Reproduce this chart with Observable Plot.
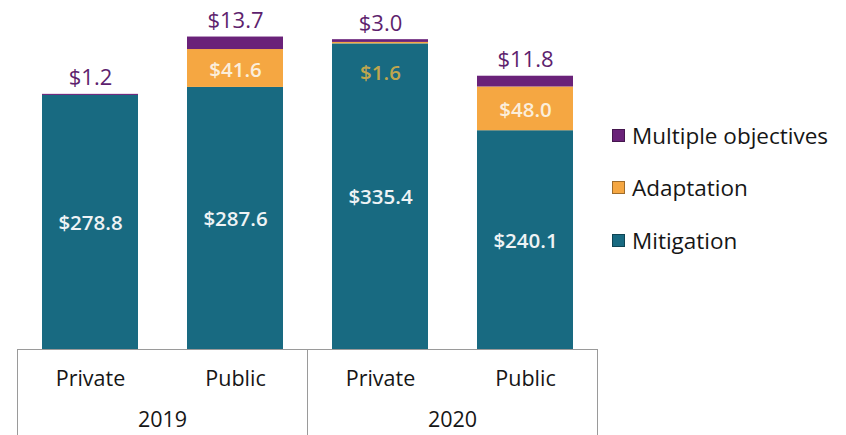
<!DOCTYPE html>
<html>
<head>
<meta charset="utf-8">
<script src="https://cdn.jsdelivr.net/npm/d3@7"></script>
<script src="https://cdn.jsdelivr.net/npm/@observablehq/plot@0.6"></script>
<style>
  html, body { margin: 0; padding: 0; background: #fff; }
  #wrap { position: relative; width: 846px; height: 435px; overflow: hidden; font-family: "Open Sans", sans-serif; }
  #legend { position: absolute; left: 612px; top: 120px; }
  .item { display: flex; align-items: center; height: 30px; margin-bottom: 22.5px; font-size: 22.5px; color: #161616; }
  .sw { width: 11px; height: 11px; border: 1px solid rgba(0,0,0,0.35); margin-right: 7px; }
</style>
</head>
<body>
<div id="wrap"><div id="legend"></div></div>
<script>
const years = ["2019", "2019", "2020", "2020"];
const sectors = ["Private", "Public", "Private", "Public"];
const mitigation = [278.8, 287.6, 335.4, 240.1];
const adaptation = [0, 41.6, 1.6, 48.0];
const multiple = [1.2, 13.7, 3.0, 11.8];

const objectives = ["Mitigation", "Adaptation", "Multiple objectives"];
const colors = ["#186a81", "#f5a742", "#6a2279"];

const fmt = v => "$" + v.toFixed(1);

const rows = [];
years.forEach((yr, i) => {
  rows.push({year: yr, sector: sectors[i], objective: "Mitigation", value: mitigation[i]});
  rows.push({year: yr, sector: sectors[i], objective: "Adaptation", value: adaptation[i]});
  rows.push({year: yr, sector: sectors[i], objective: "Multiple objectives", value: multiple[i]});
});

const idx = years.map((_, i) => i);
const mitLabels = idx.map(i => ({year: years[i], sector: sectors[i], y: mitigation[i] / 2, text: fmt(mitigation[i])}));
const adaBig = idx.filter(i => adaptation[i] >= 15).map(i => ({year: years[i], sector: sectors[i], y: mitigation[i] + adaptation[i] / 2, text: fmt(adaptation[i])}));
const adaSmall = idx.filter(i => adaptation[i] > 0 && adaptation[i] < 15).map(i => ({year: years[i], sector: sectors[i], y: mitigation[i] + adaptation[i], text: fmt(adaptation[i])}));
const topLabels = idx.map(i => ({year: years[i], sector: sectors[i], y: mitigation[i] + adaptation[i] + multiple[i], text: fmt(multiple[i])}));

const chart = Plot.plot({
  width: 846,
  height: 435,
  marginLeft: 17,
  marginRight: 249,
  marginTop: 0,
  marginBottom: 86,
  style: {fontFamily: "'Open Sans', sans-serif", background: "transparent"},
  fx: {domain: ["2019", "2020"], padding: 0, label: null},
  x: {domain: ["Private", "Public"], paddingInner: 0.338, paddingOuter: 0.169, label: null},
  y: {domain: [0, 383], axis: null},
  color: {domain: objectives, range: colors},
  marks: [
    Plot.barY(rows, {fx: "year", x: "sector", y: "value", fill: "objective", order: objectives}),
    Plot.text(mitLabels, {fx: "year", x: "sector", y: "y", text: "text", fill: "#eef3f5", fontSize: 20.5, fontWeight: 600, dy: 1}),
    Plot.text(adaBig, {fx: "year", x: "sector", y: "y", text: "text", fill: "#fbeedb", fontSize: 20.5, fontWeight: 600, dy: 2}),
    Plot.text(adaSmall, {fx: "year", x: "sector", y: "y", text: "text", fill: "#bfa64e", fontSize: 20.5, fontWeight: 600, dy: 31}),
    Plot.text(topLabels, {fx: "year", x: "sector", y: "y", text: "text", fill: "#5e1f6e", fontSize: 22, dy: -16}),
    Plot.frame({stroke: "#9a9a9a", insetTop: 349, insetBottom: -95}),
    Plot.axisX({anchor: "bottom", tickSize: 0, tickPadding: 21, fontSize: 21.5, fill: "#161616", label: null}),
    Plot.axisFx({anchor: "bottom", tickSize: 0, tickPadding: 62, fontSize: 21.5, fill: "#161616", label: null})
  ]
});
document.getElementById("wrap").prepend(chart);

const legend = document.getElementById("legend");
[2, 1, 0].forEach(k => {
  const item = document.createElement("div");
  item.className = "item";
  const sw = document.createElement("span");
  sw.className = "sw";
  sw.style.background = colors[k];
  const label = document.createElement("span");
  label.textContent = objectives[k];
  item.append(sw, label);
  legend.append(item);
});
</script>
</body>
</html>
